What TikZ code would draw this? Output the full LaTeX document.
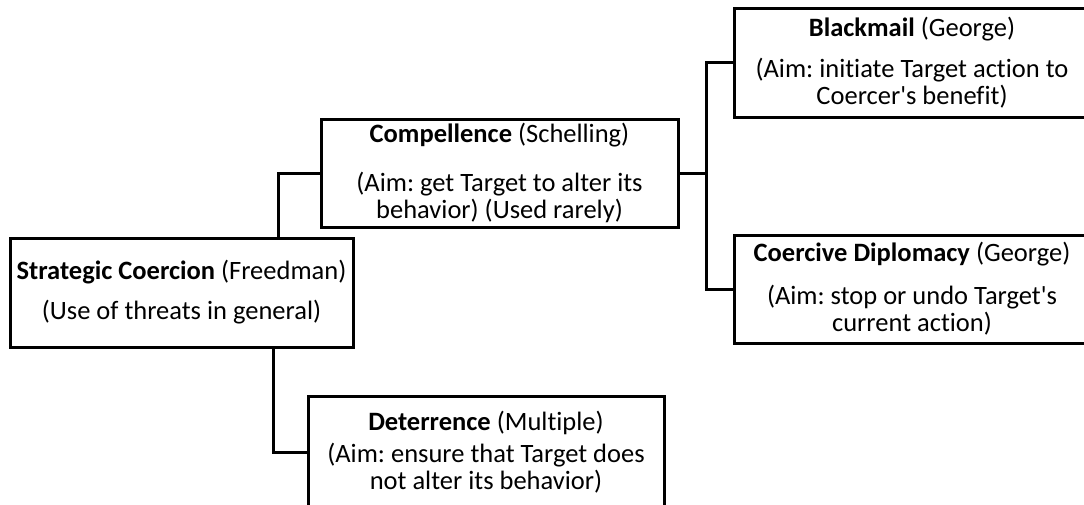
\documentclass[tikz,border=0pt]{standalone}
\usepackage{fontspec}
\setmainfont{Carlito}[Ligatures={TeXOff,CommonOff}]
\usetikzlibrary{positioning}
\frenchspacing

\begin{document}
\begin{tikzpicture}[x=1pt, y=-1pt,
  cbox/.style={draw, line width=3pt, inner sep=0pt, align=center, minimum height=108pt, font=\fontsize{26.5}{27}\selectfont},
  link/.style={line width=3pt},
]
  \useasboundingbox (0,0) rectangle (1084,504);
  \clip (0,0) rectangle (1084,504);

  \node[cbox, minimum width=343pt, minimum height=109pt] (strat) at (181.5,292.5) {\textbf{Strategic Coercion} (Freedman)\\[13pt](Use of threats in general)};
  \node[cbox, minimum width=357pt] (comp) at (499.5,173) {\textbf{Compellence} (Schelling)\\[22pt](Aim: get Target to alter its\\behavior) (Used rarely)};
  \node[cbox, minimum width=356pt, minimum height=112pt] (det) at (486,452) {\textbf{Deterrence} (Multiple)\\[5pt](Aim: ensure that Target does\\not alter its behavior)};
  \node[cbox, minimum width=356pt, minimum height=109pt] (black) at (912,62.5) {\textbf{Blackmail} (George)\\[14pt](Aim: initiate Target action to\\Coercer's benefit)};
  \node[cbox, minimum width=356pt] (diplo) at (912,289) {\textbf{Coercive Diplomacy} (George)\\[16pt](Aim: stop or undo Target's\\current action)};

  % Connectors
  \draw[link] ([xshift=96.5pt]strat.north) |- (comp.west);
  \draw[link] ([xshift=91.5pt]strat.south) |- (det.west);
  \draw[link] (comp.east) -- ++(27,0) coordinate (fork);
  \draw[link] (black.west) -| (fork) |- (diplo.west);
\end{tikzpicture}
\end{document}
